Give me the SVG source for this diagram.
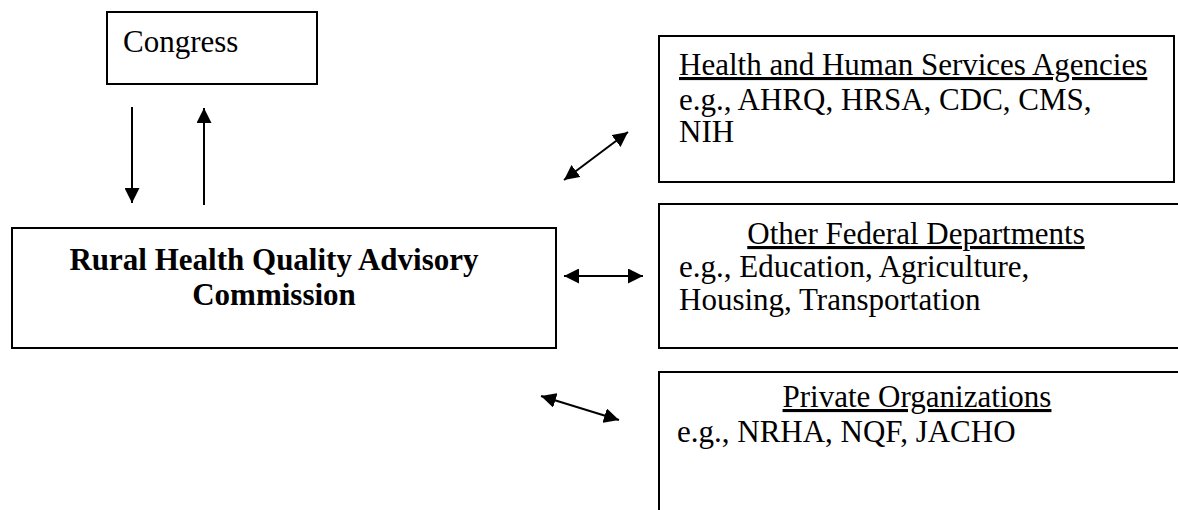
<svg xmlns="http://www.w3.org/2000/svg" width="1178" height="510" viewBox="0 0 1178 510">
<style>
.box{fill:#fff;stroke:#000;stroke-width:2}
.t{font-family:"Liberation Serif","Times New Roman",serif;font-size:31px;fill:#000}
.b{font-weight:bold}
.u{text-decoration:underline}
.conn line{stroke:#000;stroke-width:2}
</style>
<defs>
<marker id="ah" viewBox="0 0 10 10" refX="10" refY="5" markerWidth="15" markerHeight="15" markerUnits="userSpaceOnUse" orient="auto-start-reverse">
<path d="M0,0 L10,5 L0,10 Z" fill="#000"/>
</marker>
</defs>
<g id="congress">
<rect class="box" x="107" y="12" width="210" height="72"/>
<text class="t" x="123" y="52">Congress</text>
</g>
<g id="commission">
<rect class="box" x="12" y="228" width="544" height="120"/>
<text class="t b" x="274" y="270" text-anchor="middle">Rural Health Quality Advisory</text>
<text class="t b" x="274" y="305" text-anchor="middle">Commission</text>
</g>
<g id="hhs">
<rect class="box" x="659" y="36" width="515" height="146"/>
<text class="t u" x="679" y="75">Health and Human Services Agencies</text>
<text class="t" x="679" y="110">e.g., AHRQ, HRSA, CDC, CMS,</text>
<text class="t" x="679" y="142">NIH</text>
</g>
<g id="federal">
<path class="box" d="M1180,204 H659 V348 H1180"/>
<text class="t u" x="916" y="244" text-anchor="middle">Other Federal Departments</text>
<text class="t" x="679" y="277">e.g., Education, Agriculture,</text>
<text class="t" x="679" y="310">Housing, Transportation</text>
</g>
<g id="private">
<path class="box" d="M1180,372 H659 V512"/>
<text class="t u" x="917" y="407" text-anchor="middle">Private Organizations</text>
<text class="t" x="677" y="442">e.g., NRHA, NQF, JACHO</text>
</g>
<g class="conn" id="connectors">
<line x1="132" y1="107" x2="132" y2="203" marker-end="url(#ah)"/>
<line x1="204" y1="205" x2="204" y2="108" marker-end="url(#ah)"/>
<line x1="564" y1="180" x2="628" y2="132" marker-start="url(#ah)" marker-end="url(#ah)"/>
<line x1="564" y1="276" x2="643" y2="276" marker-start="url(#ah)" marker-end="url(#ah)"/>
<line x1="541" y1="396" x2="619" y2="420" marker-start="url(#ah)" marker-end="url(#ah)"/>
</g>
</svg>
